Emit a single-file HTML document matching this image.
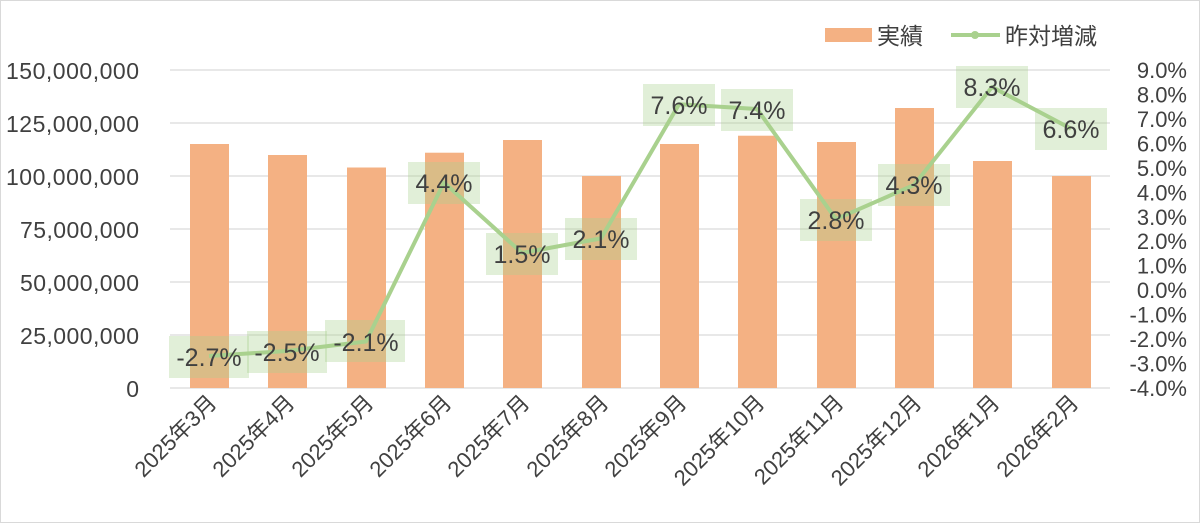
<!DOCTYPE html>
<html><head><meta charset="utf-8"><style>
body{margin:0;background:#fff}
svg{display:block}
text{font-family:"Liberation Sans","Noto Sans CJK JP",sans-serif;fill:#404040}
</style></head><body>
<svg width="1200" height="523" viewBox="0 0 1200 523" xmlns="http://www.w3.org/2000/svg">
<rect x="0.5" y="0.5" width="1199" height="522" fill="#fff" stroke="#d9d9d9"/>
<g stroke="#d9d9d9" stroke-width="1.2">
<line x1="170" x2="1110" y1="70" y2="70"/><line x1="170" x2="1110" y1="123" y2="123"/>
<line x1="170" x2="1110" y1="176" y2="176"/><line x1="170" x2="1110" y1="229" y2="229"/>
<line x1="170" x2="1110" y1="282" y2="282"/><line x1="170" x2="1110" y1="335" y2="335"/>
<line x1="170" x2="1110" y1="388" y2="388"/>
</g>
<g font-size="23" text-anchor="end">
<text x="139" y="79" textLength="133">150,000,000</text><text x="139" y="132" textLength="133">125,000,000</text>
<text x="139" y="185" textLength="133">100,000,000</text><text x="139" y="238" textLength="119">75,000,000</text>
<text x="139" y="291" textLength="119">50,000,000</text><text x="139" y="344" textLength="119">25,000,000</text>
<text x="139" y="397">0</text>
</g>
<g font-size="22" text-anchor="end">
<text x="1187" y="78">9.0%</text><text x="1187" y="102.5">8.0%</text><text x="1187" y="127">7.0%</text>
<text x="1187" y="151.4">6.0%</text><text x="1187" y="175.8">5.0%</text><text x="1187" y="200.3">4.0%</text>
<text x="1187" y="224.8">3.0%</text><text x="1187" y="249.2">2.0%</text><text x="1187" y="273.7">1.0%</text>
<text x="1187" y="298.1">0.0%</text><text x="1187" y="322.6">-1.0%</text><text x="1187" y="347">-2.0%</text>
<text x="1187" y="371.5">-3.0%</text><text x="1187" y="396">-4.0%</text>
</g>
<g fill="#f4b183">
<rect x="190" y="144" width="39" height="244"/><rect x="268" y="155" width="39" height="233"/>
<rect x="347" y="167.5" width="39" height="220.5"/><rect x="425" y="152.7" width="39" height="235.3"/>
<rect x="503" y="140" width="39" height="248"/><rect x="582" y="176" width="39" height="212"/>
<rect x="660" y="144" width="39" height="244"/><rect x="738" y="135.7" width="39" height="252.3"/>
<rect x="817" y="142" width="39" height="246"/><rect x="895" y="108" width="39" height="280"/>
<rect x="973" y="161" width="39" height="227"/><rect x="1052" y="176" width="39" height="212"/>
</g>
<polyline fill="none" stroke="#a9d18e" stroke-width="4" stroke-linejoin="round" points="209,356 287,351 366,341.5 444,182.5 522,253 601,238.4 679,104.2 757,109 836,219.2 914,185 992,87 1071,128.7"/>
<g fill="rgba(169,208,142,0.35)">
<rect x="169" y="336" width="80" height="42"/><rect x="247" y="331" width="80" height="42"/>
<rect x="325" y="320" width="80" height="42"/><rect x="408" y="162" width="72" height="42"/>
<rect x="486" y="233" width="72" height="42"/><rect x="565" y="218" width="72" height="42"/>
<rect x="643" y="84" width="72" height="42"/><rect x="721" y="89" width="72" height="42"/>
<rect x="800" y="199" width="72" height="42"/><rect x="878" y="164" width="72" height="42"/>
<rect x="956" y="66" width="72" height="42"/><rect x="1035" y="108" width="72" height="42"/>
</g>
<g font-size="25" text-anchor="middle">
<text x="209" y="366">-2.7%</text><text x="287" y="361">-2.5%</text><text x="366" y="351">-2.1%</text>
<text x="444" y="192">4.4%</text><text x="522" y="263">1.5%</text><text x="601" y="248">2.1%</text>
<text x="679" y="114">7.6%</text><text x="757" y="119">7.4%</text><text x="836" y="229">2.8%</text>
<text x="914" y="194">4.3%</text><text x="992" y="96">8.3%</text><text x="1071" y="138">6.6%</text>
</g>
<g font-size="22" text-anchor="end">
<text transform="translate(218,404) rotate(-45)">2025年3月</text>
<text transform="translate(296,404) rotate(-45)">2025年4月</text>
<text transform="translate(375,404) rotate(-45)">2025年5月</text>
<text transform="translate(453,404) rotate(-45)">2025年6月</text>
<text transform="translate(531,404) rotate(-45)">2025年7月</text>
<text transform="translate(610,404) rotate(-45)">2025年8月</text>
<text transform="translate(688,404) rotate(-45)">2025年9月</text>
<text transform="translate(766,404) rotate(-45)">2025年10月</text>
<text transform="translate(845,404) rotate(-45)">2025年11月</text>
<text transform="translate(923,404) rotate(-45)">2025年12月</text>
<text transform="translate(1001,404) rotate(-45)">2026年1月</text>
<text transform="translate(1080,404) rotate(-45)">2026年2月</text>
</g>
<rect x="825" y="28" width="47" height="14" fill="#f4b183"/>
<text x="877" y="44" font-size="23">実績</text>
<line x1="951" y1="35" x2="1000" y2="35" stroke="#a9d18e" stroke-width="4"/>
<circle cx="975" cy="35" r="4" fill="#a9d18e"/>
<text x="1005" y="44" font-size="23">昨対増減</text>
</svg>
</body></html>
